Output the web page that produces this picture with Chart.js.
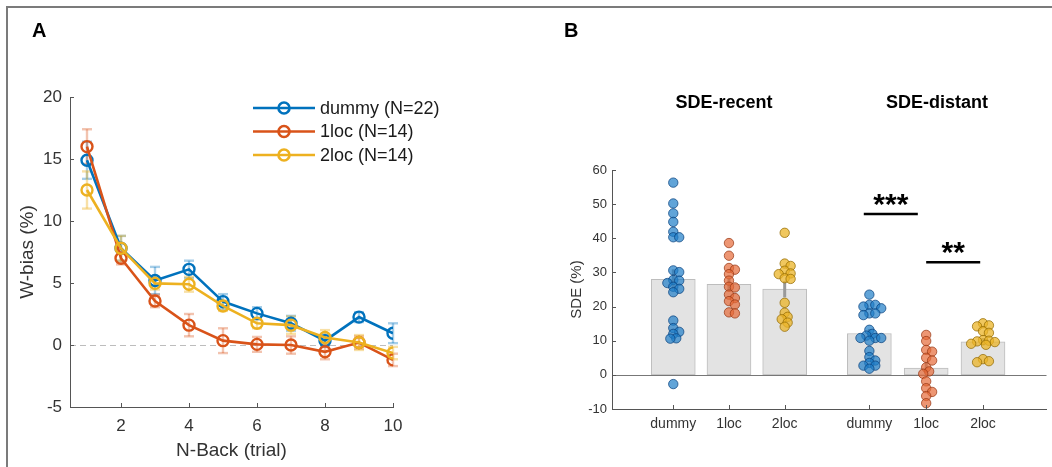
<!DOCTYPE html>
<html>
<head>
<meta charset="utf-8">
<script src="https://cdn.jsdelivr.net/npm/chart.js@4.4.1/dist/chart.umd.min.js"></script>
<style>
  body { margin: 0; background: #fff; }
  #wrap { position: relative; width: 1052px; height: 467px; overflow: hidden; font-family: 'Liberation Sans', Arial, Helvetica, sans-serif; }
  #frame { position: absolute; left: 6px; top: 6px; width: 1060px; height: 480px; border-top: 2px solid #7b7b7b; border-left: 2px solid #7b7b7b; }
  canvas { position: absolute; top: 0; }
  .lbl { position: absolute; font-weight: bold; color: #000; white-space: nowrap; }
</style>
</head>
<body>
<div id="wrap">
  <div id="frame"></div>
  <canvas id="chartA" width="530" height="467" style="left:0"></canvas>
  <canvas id="chartB" width="522" height="467" style="left:530px"></canvas>
  <div class="lbl" style="left:32px;top:20px;font-size:20px;line-height:20px">A</div>
  <div class="lbl" style="left:564px;top:20px;font-size:20px;line-height:20px">B</div>
  <div class="lbl" style="left:724px;top:93px;font-size:18px;line-height:18px;transform:translateX(-50%)">SDE-recent</div>
  <div class="lbl" style="left:937px;top:93px;font-size:18px;line-height:18px;transform:translateX(-50%)">SDE-distant</div>
</div>
<script>
const FONT = "'Liberation Sans', Arial, Helvetica, sans-serif";
Chart.defaults.font.family = FONT;

// Panel A data: W-bias per n-back trial (mean and SEM)
const nBack = [1, 2, 3, 4, 5, 6, 7, 8, 9, 10];
const nBackTicks = [2, 4, 6, 8, 10];
const wBiasTicks = [-5, 0, 5, 10, 15, 20];
const dummyBias = [14.9, 7.8, 5.2, 6.1, 3.5, 2.55, 1.75, 0.35, 2.25, 0.95];
const dummyErr = [1.5, 1.0, 1.1, 0.7, 0.6, 0.5, 0.6, 0.5, 0.4, 0.8];
const oneLocBias = [16.0, 7.0, 3.55, 1.6, 0.35, 0.05, 0.0, -0.55, 0.2, -1.2];
const oneLocErr = [1.4, 0.5, 0.5, 0.9, 1.0, 0.6, 0.7, 0.6, 0.5, 0.5];
const twoLocBias = [12.5, 7.8, 4.97, 4.9, 3.15, 1.75, 1.6, 0.6, 0.2, -0.65];
const twoLocErr = [1.5, 1.0, 0.5, 0.6, 0.4, 0.4, 0.7, 0.6, 0.6, 0.5];
const groupLabels = ['dummy (N=22)', '1loc (N=14)', '2loc (N=14)'];

// Panel B data: SDE per condition
const condLabels = ['dummy', '1loc', '2loc'];
const recentMeans = [28.0, 26.5, 25.1];
const recentSem = [2.9, 1.7, 2.4];
const distantMeans = [12.1, 2.0, 9.7];
const distantSem = [1.3, 1.6, 1.1];
const recentDummy = [56.3, 50.2, 47.3, 44.8, 41.9, 40.3, 40.3, 30.6, 30.1, 27.8, 27.6, 26.9, 25.8, 25.2, 24.2, 15.9, 13.7, 12.6, 12.0, 10.7, 10.6, -2.7];
const recentOneLoc = [38.6, 34.9, 31.3, 30.8, 29.5, 27.6, 25.8, 25.6, 23.5, 22.5, 21.6, 20.6, 18.3, 18.0];
const recentTwoLoc = [41.6, 32.6, 31.9, 30.5, 29.7, 29.5, 28.3, 28.1, 21.1, 18.2, 17.0, 16.3, 15.3, 14.1];
const distantDummy = [23.5, 20.5, 20.5, 20.0, 19.5, 18.0, 18.0, 17.5, 13.2, 12.0, 11.5, 10.8, 10.8, 10.8, 10.0, 7.0, 5.2, 4.2, 3.5, 2.7, 2.7, 1.8];
const distantOneLoc = [11.7, 9.9, 7.3, 6.8, 5.0, 4.2, 2.2, 1.0, 0.3, -1.9, -3.9, -5.0, -6.2, -8.3];
const distantTwoLoc = [15.1, 14.5, 14.2, 12.8, 12.3, 10.2, 10.0, 9.8, 9.6, 9.1, 8.8, 4.6, 4.0, 3.7];
const sdeTicks = [-10, 0, 10, 20, 30, 40, 50, 60];
const sigLabels = ['***', '**'];
const sigLevels = [47.1, 33.0];

// layout of the six bar slots on the x axis
const slotX = [1, 2, 3, 4.52, 5.54, 6.56];
const sigSpan = [[4.42, 5.39], [5.54, 6.51]];

const lineColors = ['#0072BD', '#D95319', '#EDB120'];
const errColors = ['rgba(0,114,189,0.35)', 'rgba(217,83,25,0.35)', 'rgba(237,177,32,0.4)'];
const dotFill = ['rgba(30,125,200,0.7)', 'rgba(230,105,55,0.7)', 'rgba(235,180,40,0.75)'];
const dotEdge = ['rgba(10,65,125,0.9)', 'rgba(150,55,20,0.9)', 'rgba(145,105,0,0.9)'];

const seriesA = [
  { values: dummyBias, err: dummyErr },
  { values: oneLocBias, err: oneLocErr },
  { values: twoLocBias, err: twoLocErr }
];

function line(ctx, x1, y1, x2, y2) {
  ctx.beginPath(); ctx.moveTo(x1, y1); ctx.lineTo(x2, y2); ctx.stroke();
}

// small MATLAB-style ticks pointing into the plot
const inwardTicks = {
  id: 'inwardTicks',
  afterDraw(chart) {
    const { ctx, chartArea: a, scales: { x, y } } = chart;
    ctx.save();
    ctx.strokeStyle = '#555';
    ctx.lineWidth = 1;
    x.ticks.forEach(t => {
      const p = Math.round(x.getPixelForValue(t.value)) + 0.5;
      line(ctx, p, a.bottom, p, a.bottom - 4);
    });
    y.ticks.forEach(t => {
      const p = Math.round(y.getPixelForValue(t.value)) + 0.5;
      line(ctx, a.left, p, a.left + 4, p);
    });
    ctx.restore();
  }
};

const errorBarsA = {
  id: 'errorBarsA',
  beforeDatasetsDraw(chart) {
    const { ctx, chartArea: a, scales: { x, y } } = chart;
    ctx.save();
    // dashed zero line
    ctx.strokeStyle = '#bdbdbd';
    ctx.lineWidth = 1;
    ctx.setLineDash([6, 4]);
    const y0 = Math.round(y.getPixelForValue(0)) + 0.5;
    line(ctx, a.left, y0, a.right, y0);
    ctx.setLineDash([]);
    seriesA.forEach((s, i) => {
      ctx.strokeStyle = errColors[i];
      ctx.lineWidth = 2.4;
      nBack.forEach((n, j) => {
        const px = x.getPixelForValue(n);
        const top = y.getPixelForValue(s.values[j] + s.err[j]);
        const bot = y.getPixelForValue(s.values[j] - s.err[j]);
        line(ctx, px, top, px, bot);
        line(ctx, px - 5, top, px + 5, top);
        line(ctx, px - 5, bot, px + 5, bot);
      });
    });
    ctx.restore();
  }
};

const legendA = {
  id: 'legendA',
  afterDraw(chart) {
    const ctx = chart.ctx;
    ctx.save();
    ctx.font = '18px ' + FONT;
    ctx.textBaseline = 'middle';
    ctx.fillStyle = '#1a1a1a';
    groupLabels.forEach((lab, i) => {
      const y = 108 + i * 23.5;
      ctx.strokeStyle = lineColors[i];
      ctx.lineWidth = 2.6;
      line(ctx, 253, y, 315, y);
      ctx.beginPath(); ctx.arc(284, y, 5.5, 0, Math.PI * 2); ctx.stroke();
      ctx.fillText(lab, 320, y + 1);
    });
    ctx.restore();
  }
};

new Chart(document.getElementById('chartA'), {
  type: 'line',
  data: {
    datasets: seriesA.map((s, i) => ({
      label: groupLabels[i],
      data: nBack.map((n, j) => ({ x: n, y: s.values[j] })),
      borderColor: lineColors[i],
      borderWidth: 2.6,
      pointRadius: 5.5,
      pointBorderWidth: 2.4,
      pointBorderColor: lineColors[i],
      pointBackgroundColor: 'rgba(0,0,0,0)',
      tension: 0,
      order: 3 - i
    }))
  },
  options: {
    responsive: false,
    animation: false,
    events: [],
    layout: { padding: { left: 12, right: 137, top: 97, bottom: 0 } },
    plugins: { legend: { display: false }, tooltip: { enabled: false } },
    scales: {
      x: {
        type: 'linear', min: 0.5, max: 10,
        afterBuildTicks: s => { s.ticks = nBackTicks.map(v => ({ value: v })); },
        afterFit: s => { s.height = 60; },
        grid: { display: false, drawTicks: false },
        border: { color: '#555', width: 1 },
        ticks: { color: '#333', font: { size: 17 }, padding: 9, maxRotation: 0, autoSkip: false },
        title: { display: true, text: 'N-Back (trial)', color: '#333', font: { size: 19 }, padding: { top: 0, bottom: 5 } }
      },
      y: {
        min: -5, max: 20,
        afterBuildTicks: s => { s.ticks = wBiasTicks.map(v => ({ value: v })); },
        afterFit: s => { s.width = 58; },
        grid: { display: false, drawTicks: false },
        border: { color: '#555', width: 1 },
        ticks: { color: '#333', font: { size: 17 }, padding: 8 },
        title: { display: true, text: 'W-bias (%)', color: '#333', font: { size: 19 }, padding: { top: 4, bottom: 0 } }
      }
    }
  },
  plugins: [errorBarsA, inwardTicks, legendA]
});

// beeswarm offsets so dots with close values sit side by side
function swarm(values, center) {
  const pxPerX = 440 / 7.8, pxPerY = 239 / 70, minGap = 5;
  const placed = [];
  values.forEach(v => {
    const py = v * pxPerY;
    let dx = 0;
    for (const k of [0, 1, -1, 2, -2, 3, -3, 4, -4, 5, -5]) {
      if (placed.every(p => Math.hypot(p.dx - k * 3, p.py - py) >= minGap)) { dx = k * 3; break; }
    }
    placed.push({ dx, py, v });
  });
  return placed.map(p => ({ x: center + p.dx / pxPerX, y: p.v }));
}

const barMeans = recentMeans.concat(distantMeans);
const barSem = recentSem.concat(distantSem);
const dotGroups = [recentDummy, recentOneLoc, recentTwoLoc, distantDummy, distantOneLoc, distantTwoLoc];

const barExtras = {
  id: 'barExtras',
  afterDatasetDraw(chart, args) {
    if (args.index !== 0) return;
    const { ctx, chartArea: a, scales: { x, y } } = chart;
    ctx.save();
    ctx.strokeStyle = '#777';
    ctx.lineWidth = 1;
    const y0 = Math.round(y.getPixelForValue(0)) + 0.5;
    line(ctx, a.left, y0, a.right, y0);
    ctx.strokeStyle = '#999';
    ctx.lineWidth = 3;
    slotX.forEach((sx, i) => {
      const px = x.getPixelForValue(sx);
      line(ctx, px, y.getPixelForValue(barMeans[i] - barSem[i]), px, y.getPixelForValue(barMeans[i] + barSem[i]));
    });
    ctx.restore();
  }
};

const sigMarks = {
  id: 'sigMarks',
  afterDraw(chart) {
    const { ctx, scales: { x, y } } = chart;
    ctx.save();
    ctx.strokeStyle = '#000';
    ctx.fillStyle = '#000';
    ctx.lineWidth = 2.5;
    ctx.font = 'bold 30px ' + FONT;
    ctx.textAlign = 'center';
    ctx.textBaseline = 'alphabetic';
    sigLabels.forEach((lab, i) => {
      const x1 = x.getPixelForValue(sigSpan[i][0]);
      const x2 = x.getPixelForValue(sigSpan[i][1]);
      const py = y.getPixelForValue(sigLevels[i]);
      line(ctx, x1, py, x2, py);
      ctx.fillText(lab, (x1 + x2) / 2, py - 0.5);
    });
    ctx.restore();
  }
};

new Chart(document.getElementById('chartB'), {
  type: 'bar',
  data: {
    datasets: [
      {
        type: 'bar',
        data: slotX.map((sx, i) => ({ x: sx, y: barMeans[i] })),
        backgroundColor: '#e3e3e3',
        borderColor: '#bdbdbd',
        borderWidth: 1,
        borderSkipped: false,
        barThickness: 44,
        order: 2
      },
      ...dotGroups.map((vals, g) => ({
        type: 'scatter',
        data: swarm(vals, slotX[g]),
        pointRadius: 4.7,
        pointBorderWidth: 0.8,
        pointBackgroundColor: dotFill[g % 3],
        pointBorderColor: dotEdge[g % 3],
        order: 1
      }))
    ]
  },
  options: {
    responsive: false,
    animation: false,
    events: [],
    layout: { padding: { left: 34, right: 0, top: 170, bottom: 0 } },
    plugins: { legend: { display: false }, tooltip: { enabled: false } },
    scales: {
      x: {
        type: 'linear', min: -0.1, max: 7.7, offset: false,
        afterBuildTicks: s => { s.ticks = slotX.map(v => ({ value: v })); },
        afterFit: s => { s.height = 58; },
        grid: { display: false, drawTicks: false },
        border: { color: '#555', width: 1 },
        ticks: { color: '#333', font: { size: 14 }, padding: 7, maxRotation: 0, autoSkip: false,
          callback: (v, i) => condLabels[i % 3] }
      },
      y: {
        min: -10, max: 60,
        afterBuildTicks: s => { s.ticks = sdeTicks.map(v => ({ value: v })); },
        afterFit: s => { s.width = 48; },
        grid: { display: false, drawTicks: false },
        border: { color: '#555', width: 1 },
        ticks: { color: '#333', font: { size: 13 }, padding: 5 },
        title: { display: true, text: 'SDE (%)', color: '#333', font: { size: 15 }, padding: { top: 4, bottom: 0 } }
      }
    }
  },
  plugins: [barExtras, inwardTicks, sigMarks]
});
</script>
</body>
</html>
